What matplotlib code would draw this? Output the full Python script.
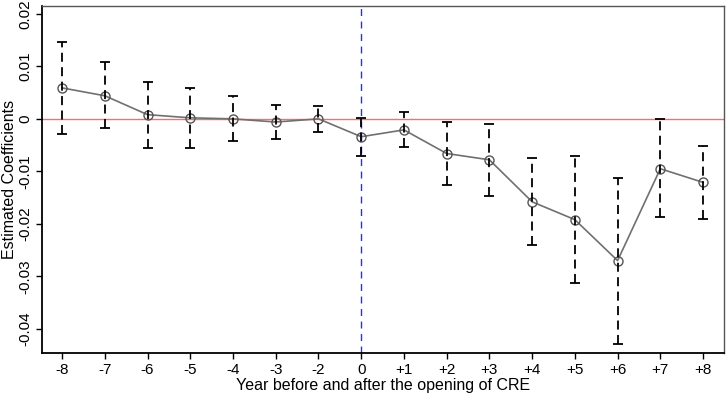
import matplotlib
matplotlib.use("Agg")
from matplotlib import pyplot as plt

plt.rcParams["font.family"] = ["Liberation Sans", "DejaVu Sans"]

years = ["-8", "-7", "-6", "-5", "-4", "-3", "-2", "0",
         "+1", "+2", "+3", "+4", "+5", "+6", "+7", "+8"]
coef = [0.0059, 0.0044, 0.0008, 0.0002, 0.0000, -0.0006, 0.0000, -0.0034,
        -0.0021, -0.0066, -0.0078, -0.0158, -0.0192, -0.0270, -0.0095, -0.0121]
upper = [0.0147, 0.0109, 0.0071, 0.0059, 0.0044, 0.0027, 0.0025, 0.0002,
         0.0014, -0.0006, -0.0009, -0.0074, -0.0071, -0.0113, 0.0000, -0.0051]
lower = [-0.0029, -0.0018, -0.0055, -0.0055, -0.0043, -0.0038, -0.0025, -0.0070,
         -0.0053, -0.0126, -0.0146, -0.0240, -0.0313, -0.0428, -0.0186, -0.0190]

x = list(range(len(years)))
yerr = [[c - l for c, l in zip(coef, lower)], [u - c for c, u in zip(coef, upper)]]

fig = plt.figure(figsize=(7.26, 3.93), dpi=100)
ax = fig.add_axes([42 / 726, 1 - 353 / 393, (724 - 42) / 726, (353 - 6) / 393])

ax.axhline(0, color="#ff6a6a", lw=1.0, zorder=1)
ax.axvline(years.index("0"), color="#2030ff", lw=1.0, ls=(0, (5, 4)), zorder=1)

ax.plot(x, coef, color="#707070", lw=1.2, marker="o", ms=6.5, mfc="none",
        mec="#555555", mew=1.0, zorder=2)

eb = ax.errorbar(x, coef, yerr=yerr, fmt="none", ecolor="black", elinewidth=1.3,
                 capsize=3.5, capthick=1.3, zorder=3)
eb[2][0].set_linestyle((0, (5, 3)))

ax.set_xlim(-0.47, 15.49)
ax.set_ylim(-0.0446, 0.0215)
ax.set_xticks(x)
ax.set_xticklabels(years)
ax.set_yticks([0.02, 0.01, 0, -0.01, -0.02, -0.03, -0.04])
ax.set_yticklabels(["0.02", "0.01", "0", "-0.01", "-0.02", "-0.03", "-0.04"],
                   rotation=90, va="center")
ax.tick_params(direction="out", length=4, width=1, labelsize=11, pad=3)

for s in ["left", "bottom"]:
    ax.spines[s].set_linewidth(1.3)
    ax.spines[s].set_color("black")
for s in ["top", "right"]:
    ax.spines[s].set_linewidth(1.0)
    ax.spines[s].set_color("#555555")

ax.set_xlabel("Year before and after the opening of CRE", fontsize=11.5, labelpad=1)
ax.set_ylabel("Estimated Coefficients", fontsize=11.5, labelpad=1)

fig.savefig("out.png", dpi=100)
